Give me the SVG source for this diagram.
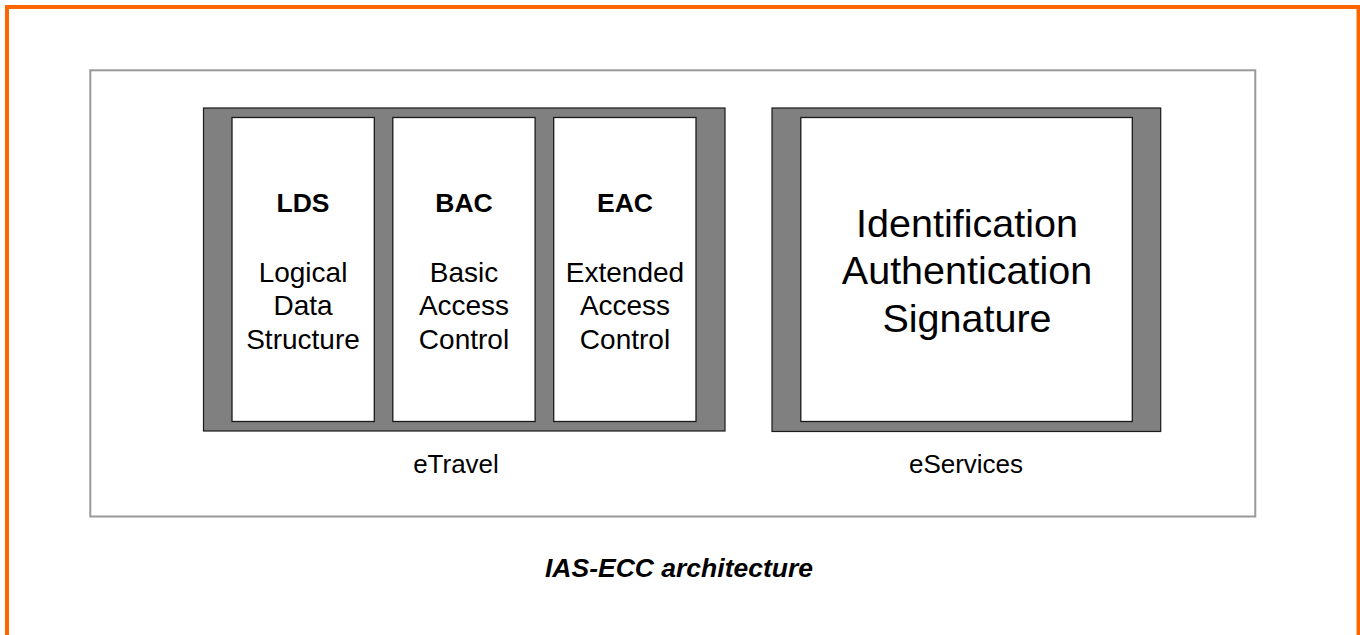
<svg xmlns="http://www.w3.org/2000/svg" width="1360" height="635" viewBox="0 0 1360 635">
  <style>
    .frame { fill: #808080; stroke: #1a1a1a; stroke-width: 1.2; }
    .cell { fill: #ffffff; stroke: #1a1a1a; stroke-width: 1.3; }
    .abbr { font-family: "Liberation Sans", Arial, sans-serif; font-weight: bold; font-size: 26.5px; text-anchor: middle; fill: #000; }
    .desc { font-family: "Liberation Sans", Arial, sans-serif; font-size: 28px; text-anchor: middle; fill: #000; }
    .big { font-family: "Liberation Sans", Arial, sans-serif; font-size: 39.5px; text-anchor: middle; fill: #000; }
    .lbl { font-family: "Liberation Sans", Arial, sans-serif; font-size: 26px; text-anchor: middle; fill: #000; }
    .title { font-family: "Liberation Sans", Arial, sans-serif; font-size: 26.5px; font-weight: bold; font-style: italic; text-anchor: middle; fill: #000; }
  </style>
  <rect x="0" y="0" width="1360" height="635" fill="#ffffff"/>
  <rect id="page-border" x="7" y="7" width="1351.5" height="700" fill="none" stroke="#ff6600" stroke-width="4"/>
  <rect id="outer-box" x="90.3" y="70.3" width="1165" height="446.2" fill="#ffffff" stroke="#999999" stroke-width="2"/>

  <g id="eTravel">
    <rect class="frame" x="203.5" y="108" width="521.5" height="323"/>
    <text class="lbl" x="456" y="473.3">eTravel</text>
  </g>
  <g id="LDS">
    <rect class="cell" x="232" y="117.5" width="142.3" height="304"/>
    <text class="abbr" x="303" y="211.7">LDS</text>
    <text class="desc" x="303" y="281.5">Logical</text>
    <text class="desc" x="303" y="315">Data</text>
    <text class="desc" x="303" y="348.5">Structure</text>
  </g>
  <g id="BAC">
    <rect class="cell" x="392.8" y="117.5" width="142.3" height="304"/>
    <text class="abbr" x="464" y="211.7">BAC</text>
    <text class="desc" x="464" y="281.5">Basic</text>
    <text class="desc" x="464" y="315">Access</text>
    <text class="desc" x="464" y="348.5">Control</text>
  </g>
  <g id="EAC">
    <rect class="cell" x="553.7" y="117.5" width="142.3" height="304"/>
    <text class="abbr" x="625" y="211.7">EAC</text>
    <text class="desc" x="625" y="281.5">Extended</text>
    <text class="desc" x="625" y="315">Access</text>
    <text class="desc" x="625" y="348.5">Control</text>
  </g>
  <g id="eServices">
    <rect class="frame" x="772" y="108" width="388.7" height="323.5"/>
    <rect class="cell" x="800.8" y="117.5" width="331.5" height="304"/>
    <text class="big" x="967" y="236.7">Identification</text>
    <text class="big" x="967" y="284.4">Authentication</text>
    <text class="big" x="967" y="332">Signature</text>
    <text class="lbl" x="966" y="473.3">eServices</text>
  </g>
  <g id="connectors"/>
  <text id="caption" class="title" x="679" y="576.7">IAS-ECC architecture</text>
</svg>
